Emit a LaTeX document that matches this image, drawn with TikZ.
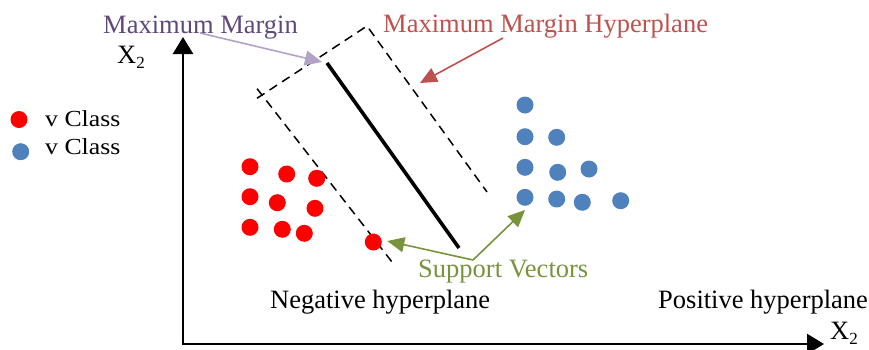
\documentclass[tikz,border=0pt]{standalone}
\usepackage{fontspec}
\setmainfont{Liberation Serif}
\usetikzlibrary{arrows.meta,calc}
\definecolor{redc}{RGB}{255,0,0}
\definecolor{bluec}{RGB}{79,129,189}
\definecolor{mmpurple}{RGB}{96,73,122}
\definecolor{mmarrow}{RGB}{179,162,199}
\definecolor{hypred}{RGB}{192,80,77}
\definecolor{svgreen}{RGB}{119,147,60}
\newcommand{\Xsub}{X\raisebox{-0.2em}{\fontsize{17}{17}\selectfont 2}}
\tikzset{
  lbl/.style={inner sep=0pt, anchor=base west, font=\fontsize{26.5}{30}\selectfont},
  leg/.style={inner sep=0pt, anchor=base west, font=\fontsize{23}{28}\selectfont},
  rdot/.style={circle, fill=redc, inner sep=0pt, minimum size=17pt},
  bdot/.style={circle, fill=bluec, inner sep=0pt, minimum size=17pt},
  axis/.style={line width=2.6pt, -{Triangle[length=17pt,width=20pt]}},
  marg/.style={line width=1.5pt, dash pattern=on 9pt off 6pt},
  callout/.style={line width=1.6pt, -{Triangle[length=17pt,width=15pt]}}
}
\begin{document}
\begin{tikzpicture}[x=1pt,y=-1pt]
\useasboundingbox (0,0) rectangle (869,349);
% axes
\coordinate (o) at (183,344);
\coordinate (ytip) at (183,37);
\coordinate (xtip) at (824,344);
\draw[axis] (o) -- (ytip);
\draw[axis] ([xshift=-1.3pt]o) -- (xtip);
\node[lbl] (x2top) at (117,63) {\Xsub};
\node[lbl] (x2bot) at (830,339) {\Xsub};
% margin box
\coordinate (A) at (262,95);
\coordinate (B) at (367,26);
\coordinate (C) at (487,192);
\coordinate (D) at (392,262);
\draw[marg] ($(A)!-6pt!(B)$) -- (B) -- (C);
\draw[marg] ($(A)!-8pt!(D)$) -- (D);
% hyperplane
\coordinate (h1) at (327,63);
\coordinate (h2) at (459,248);
\draw[line width=3.6pt] (h1) -- (h2);
% red points
\foreach \p [count=\i] in {(250,166.7),(286.7,174),(316.7,178.3),(250,196.7),(277.3,202.7),(315,208.3),(250,227.3),(282.3,229.3),(304.3,233.3)}
  \node[rdot] (r\i) at \p {};
\node[rdot] (rsv) at (373.3,242) {};
% blue points
\foreach \p [count=\i] in {(525,105),(525,136.7),(556.7,137.3),(525,167.3),(557.7,172.3),(589,169),(556.7,199),(582.3,202.3),(620.7,200.7)}
  \node[bdot] (b\i) at \p {};
\node[bdot] (bsv) at (525,197.3) {};
% legend
\node[rdot] (lr) at (19,119.5) {};
\node[bdot] (lb) at (20.7,151.7) {};
\node[leg] (lrt) at (45,126) {\scalebox{1.12}[1]{v Class}};
\node[leg] (lbt) at (45,154) {\scalebox{1.12}[1]{v Class}};
% labels
\node[lbl, text=mmpurple] (mm) at (103,33) {Maximum Margin};
\node[lbl, text=hypred] (mmh) at (383,32) {Maximum Margin Hyperplane};
\node[lbl, text=svgreen] (sv) at (418,277) {Support Vectors};
\node[lbl] (neg) at (270,308) {Negative hyperplane};
\node[lbl] (pos) at (658,308) {Positive hyperplane};
% callouts
\coordinate (mmstart) at (200,33);
\coordinate (mmend) at (322,62);
\draw[callout, color=mmarrow] (mmstart) -- (mmend);
\coordinate (hstart) at (503,38);
\coordinate (hend) at (420,83);
\draw[callout, color=hypred] (hstart) -- (hend);
\coordinate (svapex) at (473,260);
\draw[callout, color=svgreen] (svapex) -- ([xshift=14pt,yshift=1pt]rsv.center);
\draw[callout, color=svgreen] (svapex) -- (525,210);
\end{tikzpicture}
\end{document}
